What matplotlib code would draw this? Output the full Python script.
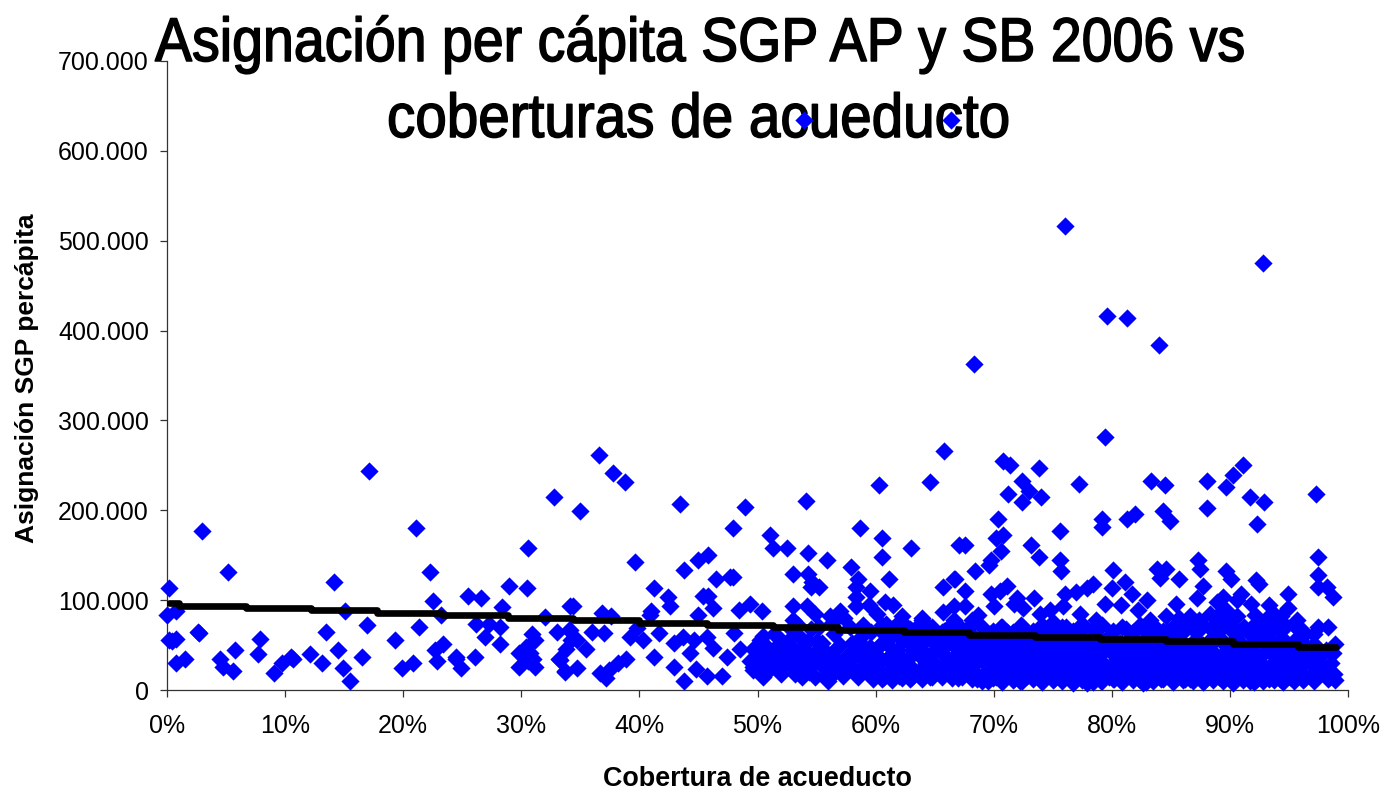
#!/usr/bin/env python3
# Scatter of SGP per capita allocation vs water coverage, with trend line
import matplotlib
matplotlib.use('Agg')
import matplotlib.pyplot as plt
import matplotlib.patheffects as pe
from matplotlib.ticker import FuncFormatter
from matplotlib.transforms import Affine2D

# values: coverage in %, allocation in thousands
cov_outliers = [53.9, 66.4, 76.0, 79.6, 81.3, 84.0, 68.3, 92.8, 79.4]
asg_outliers = [634, 634, 516, 416, 414, 384, 363, 475, 282]

cov_low = [17.1, 3.0, 5.2, 0.2, 21.1, 32.8, 30.6, 22.3, 14.1, 22.5, 25.5, 26.6, 29.0, 30.5, 28.4,
           15.1, 23.2, 0.8, 0.0, 16.9, 13.5, 21.3, 26.2, 27.3, 28.2, 26.9, 28.2, 32.0, 34.1, 2.7,
           2.6, 0.2, 0.4, 0.8, 7.9, 7.7, 5.8, 4.5, 4.7, 5.6, 0.8, 1.5, 9.1, 9.7, 10.5,
           10.7, 12.1, 13.1, 14.5, 14.9, 15.5, 16.5, 19.3, 19.9, 20.8, 22.7, 23.4, 22.9, 24.5, 24.5,
           24.9, 26.1, 29.8, 30.9, 31.2, 30.4, 30.7, 31.0, 29.8, 31.2, 30.6, 33.0, 33.2, 33.7, 34.0, 34.2]
asg_low = [244, 177, 131, 113, 180, 215, 158, 131, 120, 99, 105, 102, 116, 113, 92,
           88, 83, 88, 83, 72, 65, 70, 74, 74, 70, 59, 51, 81, 93, 63,
           65, 56, 54, 57, 57, 40, 45, 34, 26, 21, 30, 34, 19, 30, 37,
           34, 40, 30, 45, 24, 10, 37, 56, 24, 30, 44, 51, 32, 37, 34,
           24, 37, 41, 62, 56, 48, 41, 35, 26, 26, 32, 65, 35, 20, 67, 56]

cov_mid = [36.6, 37.8, 38.8, 35.0, 43.4, 48.9, 54.1, 65.8, 60.3, 64.6, 47.9, 58.7, 60.5, 51.1, 51.3,
           52.5, 54.3, 55.9, 63.0, 60.5, 67.1, 39.6, 45.8, 45.0, 43.8, 46.5, 47.9, 47.7, 53.0, 57.9,
           54.3, 54.6, 55.2, 54.5, 58.5, 61.1, 65.7, 66.6, 59.5, 58.3, 58.3, 58.3, 59.4, 41.2, 42.4,
           42.6, 45.4, 45.8, 46.2, 34.4, 36.8, 37.6, 41.0, 40.9, 49.4, 48.4, 50.4, 53.0, 54.2, 54.9,
           57.0, 56.1, 53.0, 60.8, 61.5, 62.2, 63.9, 60.1, 65.7, 66.6, 34.1, 34.7, 35.5, 36.0, 37.0,
           39.2, 40.3, 39.8, 41.7, 41.2, 42.9, 42.9, 43.7, 44.3, 44.6, 45.0, 45.7, 46.2, 48.0, 47.4,
           48.5, 43.8, 44.8, 45.7, 47.0, 38.9, 38.2, 37.4, 36.7, 37.2, 34.7, 33.7, 33.3, 33.8, 50.2,
           49.6, 49.4, 50.8, 50.5]
asg_mid = [261, 242, 231, 199, 207, 204, 210, 266, 228, 231, 180, 180, 169, 173, 158,
           158, 153, 145, 158, 148, 161, 142, 150, 145, 134, 123, 126, 126, 129, 137,
           129, 120, 115, 115, 123, 123, 115, 123, 110, 115, 104, 93, 95, 113, 104,
           93, 105, 105, 91, 94, 86, 82, 88, 83, 96, 89, 88, 93, 94, 85,
           88, 82, 78, 98, 95, 82, 78, 85, 87, 93, 67, 56, 46, 65, 63,
           59, 56, 69, 63, 37, 26, 52, 59, 41, 56, 83, 59, 47, 63, 37,
           46, 10, 23, 16, 16, 35, 30, 22, 19, 13, 24, 21, 33, 46, 26,
           22, 32, 22, 15]

cov_high = [70.8, 71.4, 73.8, 72.4, 77.2, 73.0, 74.0, 71.2, 72.4, 70.4, 70.8, 70.2, 70.6, 67.6, 69.8,
            69.6, 68.4, 66.7, 67.6, 67.6, 68.7, 73.2, 73.8, 75.6, 75.6, 75.7, 83.3, 84.5, 88.1, 90.3,
            91.1, 89.7, 88.1, 91.7, 92.9, 92.3, 97.3, 97.5, 79.2, 79.2, 81.3, 82.0, 84.3, 84.9, 87.3,
            87.5, 89.7, 90.1, 92.2, 92.5, 97.5, 97.5, 98.2, 98.7, 94.9, 80.1, 81.1, 81.7, 83.8, 84.6,
            84.1, 85.7, 87.7, 85.4, 97.5, 98.3, 98.9, 98.7, 78.4, 77.9, 77.0, 76.0, 71.1, 69.8, 70.5,
            72.0, 73.4, 72.5, 71.7, 70.0, 80.0, 79.4, 80.8, 83.0, 82.2, 78.7, 77.3, 74.8, 75.9, 73.9,
            87.2, 88.9, 90.9, 91.8, 93.3, 94.9, 90.6, 89.4, 89.7, 84.6, 83.2, 86.6, 88.3, 90.6, 92.3,
            93.7, 95.7, 95.9, 94.5]
asg_high = [255, 250, 247, 233, 229, 222, 215, 218, 209, 190, 172, 169, 155, 161, 145,
            139, 132, 123, 110, 94, 83, 161, 148, 177, 145, 132, 233, 228, 233, 239,
            250, 226, 202, 215, 209, 185, 218, 148, 190, 181, 190, 196, 199, 188, 145,
            135, 132, 123, 122, 118, 128, 115, 115, 104, 107, 134, 120, 107, 135, 135,
            125, 123, 116, 96, 70, 70, 51, 41, 118, 113, 109, 107, 116, 107, 110,
            102, 102, 91, 96, 93, 113, 96, 95, 100, 89, 78, 85, 89, 93, 85,
            102, 98, 107, 96, 95, 91, 100, 104, 89, 82, 78, 82, 85, 82, 70,
            85, 78, 67, 70]

# dense mass, estimated band by band
cov_50 = [51.0, 51.5, 52.0, 52.5, 52.3, 53.0, 53.2, 53.5, 53.8, 54.0, 54.3, 54.6, 54.9, 55.0, 50.8, 51.8, 52.8, 53.4, 54.5, 50.5,
          55.3, 55.5, 55.8, 56.0, 56.2, 56.5, 56.8, 57.0, 57.2, 57.5, 57.8, 58.0, 58.2, 58.5, 58.7, 59.0, 59.3, 59.5, 59.8, 60.0, 56.3, 57.3, 58.9, 59.6, 55.2]
asg_50 = [40, 30, 18, 35, 50, 25, 45, 60, 15, 38, 55, 28, 14, 45, 48, 58, 68, 72, 68, 60,
          30, 52, 18, 10, 40, 62, 27, 50, 16, 36, 70, 24, 46, 14, 58, 32, 20, 48, 12, 38, 75, 80, 72, 65, 70]

cov_60 = [60.2, 60.4, 60.7, 61.0, 61.2, 61.5, 61.8, 62.0, 62.3, 62.6, 62.9, 63.2, 63.5, 63.8, 64.0, 64.3, 64.6, 64.9, 60.9, 61.7, 62.9, 64.2, 63.0, 61.3, 62.1, 63.6, 64.7,
          65.1, 65.3, 65.6, 65.9, 66.2, 66.4, 66.7, 67.0, 67.2, 67.5, 67.8, 68.0, 68.3, 68.6, 68.9, 69.2, 69.4, 69.7, 69.9, 65.5, 66.0, 66.9, 67.4, 68.1, 68.8, 69.5, 69.1, 67.7, 65.8, 66.6]
asg_60 = [22, 50, 14, 35, 62, 25, 45, 16, 55, 30, 12, 40, 70, 20, 52, 30, 14, 42, 74, 72, 68, 66, 26, 18, 38, 48, 60,
          25, 55, 15, 38, 70, 22, 48, 13, 33, 60, 20, 44, 28, 12, 52, 18, 36, 62, 24, 44, 30, 58, 40, 72, 35, 10, 46, 27, 66, 78]

cov_70 = [70.2, 70.4, 70.7, 70.9, 71.1, 71.4, 71.7, 71.8, 72.1, 72.3, 72.6, 72.8, 73.1, 73.3, 73.6, 73.8, 74.1, 74.3, 74.6, 74.9,
          70.3, 71.0, 71.6, 72.2, 72.9, 73.5, 74.2, 74.8, 70.6, 71.3, 72.0, 72.7, 73.4, 74.0, 74.7,
          75.1, 75.3, 75.6, 75.8, 76.1, 76.3, 76.6, 76.8, 77.1, 77.3, 77.6, 77.9, 78.1, 78.4, 78.6, 78.9, 79.1, 79.4, 79.6, 79.9,
          75.2, 75.9, 76.5, 77.2, 77.8, 78.5, 79.2, 79.8, 75.5, 76.2, 76.9, 77.5, 78.2, 78.8, 79.5]
asg_70 = [14, 30, 48, 22, 64, 38, 12, 56, 28, 72, 44, 16, 34, 60, 24, 50, 11, 40, 68, 20,
          42, 18, 52, 10, 62, 36, 26, 46, 70, 26, 40, 24, 14, 58, 32,
          12, 36, 54, 22, 70, 30, 10, 48, 18, 64, 40, 8, 28, 56, 16, 38, 10, 46, 24, 62,
          60, 44, 20, 34, 12, 66, 30, 14, 28, 52, 38, 22, 48, 26, 16]

cov_80 = [80.2, 80.4, 80.7, 80.9, 81.2, 81.4, 81.7, 81.9, 82.2, 82.4, 82.7, 82.9, 83.2, 83.4, 83.7, 83.9, 84.2, 84.4, 84.7, 84.9,
          80.3, 81.0, 81.6, 82.3, 82.9, 83.5, 84.1, 84.8, 80.6, 81.3, 82.0, 82.6, 83.3, 84.0, 84.6,
          85.1, 85.3, 85.6, 85.8, 86.1, 86.3, 86.6, 86.8, 87.1, 87.3, 87.6, 87.8, 88.1, 88.3, 88.6, 88.8, 89.1, 89.3, 89.6, 89.8,
          85.2, 85.9, 86.5, 87.2, 87.9, 88.5, 89.2, 89.9, 85.5, 86.2, 86.9, 87.5, 88.2, 88.9, 89.5,
          86.0, 87.4, 88.7, 89.0, 85.7]
asg_80 = [12, 34, 52, 24, 68, 42, 14, 58, 30, 72, 46, 9, 36, 62, 20, 50, 12, 40, 66, 26,
          44, 20, 32, 12, 54, 26, 62, 16, 28, 50, 38, 18, 44, 30, 48,
          14, 36, 56, 22, 74, 40, 12, 50, 26, 66, 34, 10, 46, 20, 70, 38, 14, 56, 28, 76,
          60, 44, 18, 30, 12, 58, 24, 42, 28, 12, 38, 52, 26, 64, 36,
          68, 78, 72, 84, 80]

cov_90 = [90.2, 90.4, 90.7, 90.9, 91.2, 91.4, 91.7, 91.9, 92.2, 92.4, 92.7, 92.9, 93.2, 93.4, 93.7, 93.9, 94.2, 94.4, 94.7, 94.9,
          90.3, 91.0, 91.6, 92.3, 92.9, 93.5, 94.1, 94.8, 90.6, 91.3, 92.0, 92.6, 93.3, 94.0, 94.6,
          95.1, 95.3, 95.6, 95.8, 96.1, 96.3, 96.6, 96.8, 97.1, 97.3, 97.6, 97.8, 98.1, 98.3, 98.6, 98.8,
          95.2, 95.9, 96.5, 97.2, 97.9, 98.5, 95.5, 96.2, 96.9, 97.5, 98.2, 98.9, 90.1, 92.1, 93.1, 94.3, 95.4]
asg_90 = [12, 32, 54, 22, 70, 44, 10, 60, 28, 74, 40, 14, 50, 66, 24, 36, 12, 58, 72, 20,
          46, 18, 36, 12, 60, 28, 46, 32, 66, 26, 42, 20, 12, 70, 38,
          14, 34, 56, 24, 64, 12, 44, 30, 50, 16, 38, 24, 44, 12, 30, 18,
          48, 20, 36, 12, 26, 14, 26, 60, 16, 30, 20, 11, 76, 84, 80, 82, 72]

# more of the solid part around the trend line
cov_fill = [60.5, 61.4, 62.2, 63.1, 63.9, 64.8, 65.6, 66.5, 67.3, 68.2, 69.0, 69.9, 70.7, 71.6, 72.4, 73.3,
            74.1, 75.0, 75.8, 76.7, 77.5, 78.4, 79.2, 80.1, 80.9, 81.8, 82.6, 83.5, 84.3, 85.2, 86.0, 86.9,
            87.7, 88.6, 89.4, 90.3, 91.1, 92.0, 92.8, 93.7, 94.5, 95.4, 96.2, 97.1]
asg_fill_a = [18, 24, 20, 17, 25, 19, 18, 26, 17, 22, 16, 20, 17, 21, 16, 19,
              18, 16, 21, 17, 19, 15, 20, 18, 16, 21, 17, 19, 16, 20, 17, 18,
              16, 19, 17, 20, 16, 18, 17, 19, 16, 20, 18, 17]
asg_fill_b = [33, 40, 31, 44, 36, 32, 41, 35, 30, 39, 33, 28, 31, 27, 33, 28,
              30, 27, 32, 28, 30, 26, 31, 28, 27, 32, 28, 30, 27, 31, 28, 29,
              27, 30, 28, 31, 27, 29, 28, 30, 27, 31, 29, 28]
asg_fill_c = [52, 46, 58, 50, 44, 56, 47, 53, 46, 51, 45, 40, 44, 39, 45, 40,
              42, 38, 44, 40, 42, 38, 43, 40, 39, 44, 40, 42, 39, 43, 40, 41,
              39, 42, 40, 43, 39, 41, 40, 42, 39, 43, 41, 40]
asg_fill_d = [64, 60, 67, 58, 62, 54, 59, 64, 57, 61, 56, 52, 55, 50, 56, 52,
              54, 50, 55, 52, 53, 50, 54, 52, 50, 55, 52, 53, 50, 54, 52, 53,
              50, 53, 52, 54, 50, 53, 52, 53, 50, 54, 52, 51]
asg_fill_e = [72, 68, 76, 66, 80, 70, 64, 74, 68, 78, 70, 66, 70, 64, 68, 66,
              72, 76, 70, 66, 74, 68, 72, 66, 70, 64, 68, 72, 66, 70, 64, 68,
              72, 66, 70, 64, 68, 72, 66, 74, 68, 72, 66, 62]
asg_fill_f = [12, 11, 13, 15, 12, 14, 16, 13, 15, 12, 10, 13, 9, 11, 10, 12,
              9, 11, 10, 8, 11, 9, 10, 12, 9, 11, 8, 10, 12, 9, 11, 10,
              9, 11, 10, 8, 11, 9, 10, 11, 9, 10, 11, 10]

cov_fill2 = [49.6, 50.2, 50.8, 51.4, 52.0, 52.6, 53.2, 53.8, 54.4, 55.0, 55.6, 56.2, 56.8, 57.4, 58.0, 58.6, 59.2, 59.8]
asg_fill2_a = [26, 38, 20, 46, 24, 40, 18, 30, 20, 36, 24, 16, 30, 20, 34, 22, 28, 18]
asg_fill2_b = [46, 56, 36, 62, 42, 54, 34, 48, 38, 54, 44, 34, 48, 36, 52, 40, 46, 34]

# trend line: steps come from the low resolution of the original
trend_cov = [0.2, 1.0, 6.7, 12.2, 17.8, 23.3, 28.9, 34.4, 40.0, 45.7, 51.3, 56.8, 62.4, 67.9, 73.5, 79.0, 84.6, 90.3, 95.8, 99.0]
trend_asg = [96.4, 93.8, 91.6, 89.0, 86.0, 83.0, 80.5, 77.5, 75.0, 72.0, 69.7, 66.7, 64.0, 61.5, 59.0, 56.4, 54.0, 51.0, 48.0, 48.0]

y_ticks = [0, 100, 200, 300, 400, 500, 600, 700]
x_ticks = [0, 10, 20, 30, 40, 50, 60, 70, 80, 90, 100]

title_line1 = 'Asignación per cápita SGP AP y SB 2006 vs'
title_line2 = 'coberturas de acueducto'


class Squeezed(pe.AbstractPathEffect):
    """Narrow the glyphs and thicken them a bit, the original uses a narrow font."""
    def __init__(self, k, lw):
        super().__init__()
        self.k = k
        self.lw = lw

    def draw_path(self, renderer, gc, tpath, affine, rgbFace=None):
        gc0 = renderer.new_gc()
        gc0.copy_properties(gc)
        gc0.set_linewidth(self.lw)
        gc0.set_foreground('black')
        renderer.draw_path(gc0, tpath, Affine2D().scale(self.k, 1) + affine, rgbFace)
        gc0.restore()


#%%============================================================================
# Script
#==============================================================================
plt.rcParams['font.family'] = ['Liberation Sans', 'DejaVu Sans']

fig = plt.figure(figsize=(13.84, 7.9), dpi=100)
ax = fig.add_axes([167/1384, 1 - 690/790, (1348 - 167)/1384, (690 - 61)/790])
ax.patch.set_alpha(0)   # title sits behind the points

xs = cov_outliers + cov_low + cov_mid + cov_high + cov_50 + cov_60 + cov_70 + cov_80 + cov_90
ys = asg_outliers + asg_low + asg_mid + asg_high + asg_50 + asg_60 + asg_70 + asg_80 + asg_90
for fill in (asg_fill_a, asg_fill_b, asg_fill_c, asg_fill_d, asg_fill_e, asg_fill_f):
    xs = xs + cov_fill
    ys = ys + fill
for fill in (asg_fill2_a, asg_fill2_b):
    xs = xs + cov_fill2
    ys = ys + fill
ax.scatter(xs, ys, marker='D', s=86, color='#0000FF', linewidths=0, clip_on=False, zorder=3)
ax.plot(trend_cov, trend_asg, color='black', lw=4.8, drawstyle='steps-post',
        solid_capstyle='round', zorder=4)

ax.set_xlim(0, 100)
ax.set_ylim(0, 700)
ax.set_xticks(x_ticks)
ax.set_yticks(y_ticks)
ax.xaxis.set_major_formatter(FuncFormatter(lambda v, p: '%d%%' % v))
ax.yaxis.set_major_formatter(FuncFormatter(lambda v, p: '0' if v == 0 else '%d.000' % v))
ax.tick_params(axis='x', labelsize=18, length=5, width=0.9, color='#333333', pad=12)
ax.tick_params(axis='y', labelsize=18, length=5, width=0.9, color='#333333', pad=8)
ax.spines['top'].set_visible(False)
ax.spines['right'].set_visible(False)
ax.spines['left'].set_linewidth(0.9)
ax.spines['bottom'].set_linewidth(0.9)
ax.spines['left'].set_color('#333333')
ax.spines['bottom'].set_color('#333333')

fig.text(757/1384, 1 - 779/790, 'Cobertura de acueducto', fontsize=19.4, fontweight='bold',
         ha='center', va='center')
fig.text(27/1384, 1 - 378/790, 'Asignación SGP percápita', fontsize=19, fontweight='bold',
         rotation=90, ha='center', va='center')

# two texts so that each line can start where it starts in the original
for txt, px, py, k in ((title_line1, 155, 61, 0.898), (title_line2, 387, 137, 0.916)):
    t = fig.text(px/1384, 1 - py/790, txt, fontsize=44.5, ha='left', va='baseline', zorder=-1)
    t.set_path_effects([Squeezed(k, 1.1)])

fig.savefig('out.png', dpi=100)
